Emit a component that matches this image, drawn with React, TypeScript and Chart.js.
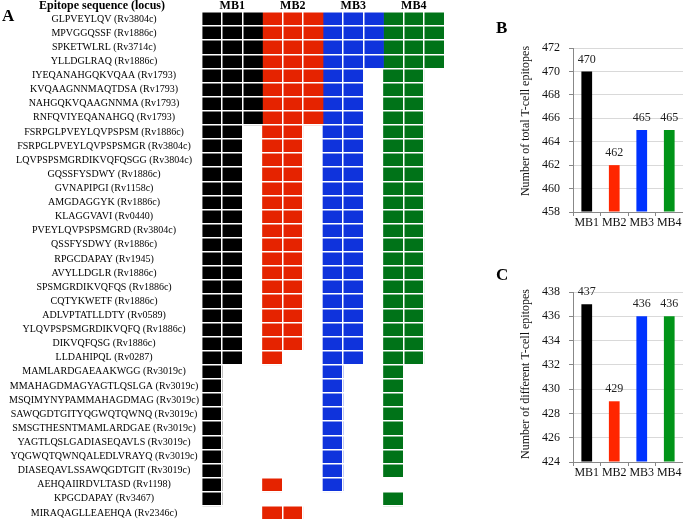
import React, { useEffect, useRef } from 'react';
import { Chart, registerables } from 'chart.js';

Chart.register(...registerables);

const SERIF = "'Liberation Serif', 'Times New Roman', serif";

// ---------- Panel A data ----------
const epitopes = [
  'GLPVEYLQV (Rv3804c)',
  'MPVGGQSSF (Rv1886c)',
  'SPKETWLRL (Rv3714c)',
  'YLLDGLRAQ (Rv1886c)',
  'IYEQANAHGQKVQAA (Rv1793)',
  'KVQAAGNNMAQTDSA (Rv1793)',
  'NAHGQKVQAAGNNMA (Rv1793)',
  'RNFQVIYEQANAHGQ (Rv1793)',
  'FSRPGLPVEYLQVPSPSM (Rv1886c)',
  'FSRPGLPVEYLQVPSPSMGR (Rv3804c)',
  'LQVPSPSMGRDIKVQFQSGG (Rv3804c)',
  'GQSSFYSDWY (Rv1886c)',
  'GVNAPIPGI (Rv1158c)',
  'AMGDAGGYK (Rv1886c)',
  'KLAGGVAVI (Rv0440)',
  'PVEYLQVPSPSMGRD (Rv3804c)',
  'QSSFYSDWY (Rv1886c)',
  'RPGCDAPAY (Rv1945)',
  'AVYLLDGLR (Rv1886c)',
  'SPSMGRDIKVQFQS (Rv1886c)',
  'CQTYKWETF (Rv1886c)',
  'ADLVPTATLLDTY (Rv0589)',
  'YLQVPSPSMGRDIKVQFQ (Rv1886c)',
  'DIKVQFQSG (Rv1886c)',
  'LLDAHIPQL (Rv0287)',
  'MAMLARDGAEAAKWGG (Rv3019c)',
  'MMAHAGDMAGYAGTLQSLGA (Rv3019c)',
  'MSQIMYNYPAMMAHAGDMAG (Rv3019c)',
  'SAWQGDTGITYQGWQTQWNQ (Rv3019c)',
  'SMSGTHESNTMAMLARDGAE (Rv3019c)',
  'YAGTLQSLGADIASEQAVLS (Rv3019c)',
  'YQGWQTQWNQALEDLVRAYQ (Rv3019c)',
  'DIASEQAVLSSAWQGDTGIT (Rv3019c)',
  'AEHQAIIRDVLTASD (Rv1198)',
  'KPGCDAPAY (Rv3467)',
  'MIRAQAGLLEAEHQA (Rv2346c)',
];

const groups = ['MB1', 'MB2', 'MB3', 'MB4'];

// number of filled cells (out of 3) per epitope row, for each group
const mb1Cells = [3, 3, 3, 3, 3, 3, 3, 3, 2, 2, 2, 2, 2, 2, 2, 2, 2, 2, 2, 2, 2, 2, 2, 2, 2, 1, 1, 1, 1, 1, 1, 1, 1, 1, 1, 0];
const mb2Cells = [3, 3, 3, 3, 3, 3, 3, 3, 2, 2, 2, 2, 2, 2, 2, 2, 2, 2, 2, 2, 2, 2, 2, 2, 1, 0, 0, 0, 0, 0, 0, 0, 0, 1, 0, 2];
const mb3Cells = [3, 3, 3, 3, 2, 2, 2, 2, 2, 2, 2, 2, 2, 2, 2, 2, 2, 2, 2, 2, 2, 2, 2, 2, 2, 1, 1, 1, 1, 1, 1, 1, 1, 1, 0, 0];
const mb4Cells = [3, 3, 3, 3, 2, 2, 2, 2, 2, 2, 2, 2, 2, 2, 2, 2, 2, 2, 2, 2, 2, 2, 2, 2, 2, 1, 1, 1, 1, 1, 1, 1, 1, 0, 1, 0];
const cellsPerGroup = 3;

// ---------- Panels B / C data ----------
const totalEpitopes = [470, 462, 465, 465];
const differentEpitopes = [437, 429, 436, 436];
const totalAxis = [458, 472, 2];
const differentAxis = [424, 438, 2];

const gridColors = ['#000000', '#e52300', '#0f33dc', '#007318'];
const barColors = ['#000000', '#ff2600', '#0033ff', '#009418'];

function gridConfig(): any {
  const cellSets = [mb1Cells, mb2Cells, mb3Cells, mb4Cells];
  const headerPlugin = {
    id: 'headerA',
    afterDraw(chart: any) {
      const ctx = chart.ctx;
      const ys = chart.scales.y;
      const xs = chart.scales.x;
      ctx.save();
      ctx.fillStyle = '#000';
      ctx.font = `bold 12px ${SERIF}`;
      ctx.textAlign = 'center';
      ctx.textBaseline = 'middle';
      ctx.fillText('Epitope sequence (locus)', (ys.left + ys.right) / 2, 6);
      groups.forEach((name, g) => {
        ctx.fillText(name, xs.getPixelForValue(g * cellsPerGroup + cellsPerGroup / 2), 6);
      });
      ctx.font = `bold 17px ${SERIF}`;
      ctx.textAlign = 'left';
      ctx.textBaseline = 'alphabetic';
      ctx.fillText('A', 2, 21);
      ctx.restore();
    },
  };
  return {
    type: 'bar',
    data: {
      labels: epitopes,
      datasets: cellSets.map((cells, g) => ({
        label: groups[g],
        data: cells.map((c) => (c > 0 ? [g * cellsPerGroup, g * cellsPerGroup + c] : null)),
        backgroundColor: gridColors[g],
        borderWidth: 0,
        barPercentage: 1,
        categoryPercentage: 1,
        grouped: false,
        xAxisID: 'x',
        yAxisID: 'y',
      })),
    },
    options: {
      indexAxis: 'y',
      responsive: false,
      animation: false,
      layout: { padding: { left: 2, right: 2, top: 12, bottom: 2 } },
      plugins: { legend: { display: false }, tooltip: { enabled: false } },
      scales: {
        x: {
          type: 'linear',
          position: 'bottom',
          min: 0,
          max: groups.length * cellsPerGroup,
          ticks: { display: false, stepSize: 1 },
          grid: {
            z: 1,
            drawTicks: false,
            lineWidth: 1.5,
            color: (ctx: any) =>
              ctx.tick && ctx.tick.value % cellsPerGroup === 0 ? 'rgba(255,255,255,0)' : '#ffffff',
          },
          border: { display: false },
          afterFit: (s: any) => {
            s.height = 0;
          },
        },
        y: {
          type: 'category',
          offset: true,
          grid: { z: 1, color: '#ffffff', lineWidth: 1.5, drawTicks: false, offset: true },
          border: { display: false },
          ticks: {
            autoSkip: false,
            crossAlign: 'center',
            padding: 3,
            color: '#000',
            font: { family: SERIF, size: 10 },
          },
          afterFit: (s: any) => {
            s.width = 200;
          },
        },
      },
    },
    plugins: [headerPlugin],
  };
}

function barConfig(
  values: number[],
  axis: number[],
  letter: string,
  title: string,
  g: { top: number; bottom: number; axisW: number; titleX: number; titleY: number; letterY: number }
): any {
  const decor = {
    id: 'decor' + letter,
    afterDatasetsDraw(chart: any) {
      const ctx = chart.ctx;
      const meta = chart.getDatasetMeta(0);
      ctx.save();
      ctx.fillStyle = '#222';
      ctx.font = `12px ${SERIF}`;
      ctx.textAlign = 'center';
      ctx.textBaseline = 'middle';
      meta.data.forEach((bar: any, i: number) => {
        ctx.fillText(String(values[i]), bar.x, bar.y - 12);
      });
      ctx.restore();
    },
    afterDraw(chart: any) {
      const ctx = chart.ctx;
      ctx.save();
      ctx.fillStyle = '#111';
      ctx.font = `12px ${SERIF}`;
      ctx.textAlign = 'center';
      ctx.textBaseline = 'middle';
      ctx.translate(g.titleX, g.titleY);
      ctx.rotate(-Math.PI / 2);
      ctx.fillText(title, 0, 0);
      ctx.restore();
      ctx.save();
      ctx.fillStyle = '#000';
      ctx.font = `bold 17px ${SERIF}`;
      ctx.textAlign = 'left';
      ctx.textBaseline = 'alphabetic';
      ctx.fillText(letter, 36, g.letterY);
      ctx.restore();
    },
  };
  return {
    type: 'bar',
    data: {
      labels: groups,
      datasets: [
        {
          data: values,
          backgroundColor: barColors,
          borderWidth: 0,
          barPercentage: 0.39,
          categoryPercentage: 1,
          base: axis[0],
        },
      ],
    },
    options: {
      responsive: false,
      animation: false,
      layout: { padding: { left: 0, right: 0, top: g.top, bottom: g.bottom } },
      plugins: { legend: { display: false }, tooltip: { enabled: false } },
      scales: {
        x: {
          grid: { drawOnChartArea: false, drawTicks: true, tickLength: 4, tickColor: '#888', offset: true },
          border: { color: '#888', width: 1 },
          ticks: {
            color: '#111',
            padding: 0,
            autoSkip: false,
            maxRotation: 0,
            minRotation: 0,
            font: { family: SERIF, size: 12 },
          },
          afterFit: (s: any) => {
            s.height = 20;
          },
        },
        y: {
          min: axis[0],
          max: axis[1],
          grid: { color: '#d9d9d9', drawTicks: true, tickLength: 4, tickColor: '#888' },
          border: { color: '#888', width: 1 },
          ticks: { stepSize: axis[2], color: '#111', padding: 9, font: { family: SERIF, size: 12 } },
          afterFit: (s: any) => {
            s.width = g.axisW;
          },
        },
      },
    },
    plugins: [decor],
  };
}

function ChartCanvas({ config, left, top, width, height }: any) {
  const ref = useRef<HTMLCanvasElement | null>(null);
  useEffect(() => {
    if (!ref.current) return;
    const chart = new Chart(ref.current, config());
    return () => chart.destroy();
  }, []);
  return (
    <canvas
      ref={ref}
      width={width}
      height={height}
      style={{ position: 'absolute', left, top, width, height }}
    />
  );
}

export default function App() {
  return (
    <div style={{ position: 'fixed', left: 0, top: 0, width: 683, height: 529, background: '#fff' }}>
      <ChartCanvas config={gridConfig} left={0} top={0} width={446} height={529} />
      <ChartCanvas
        config={() =>
          barConfig(totalEpitopes, totalAxis, 'B', 'Number of total T-cell epitopes', {
            top: 48,
            bottom: 28,
            axisW: 113,
            titleX: 66,
            titleY: 121,
            letterY: 33,
          })
        }
        left={460}
        top={0}
        width={223}
        height={260}
      />
      <ChartCanvas
        config={() =>
          barConfig(differentEpitopes, differentAxis, 'C', 'Number of different T-cell epitopes', {
            top: 32,
            bottom: 47,
            axisW: 113,
            titleX: 66,
            titleY: 114,
            letterY: 20,
          })
        }
        left={460}
        top={260}
        width={223}
        height={269}
      />
    </div>
  );
}
